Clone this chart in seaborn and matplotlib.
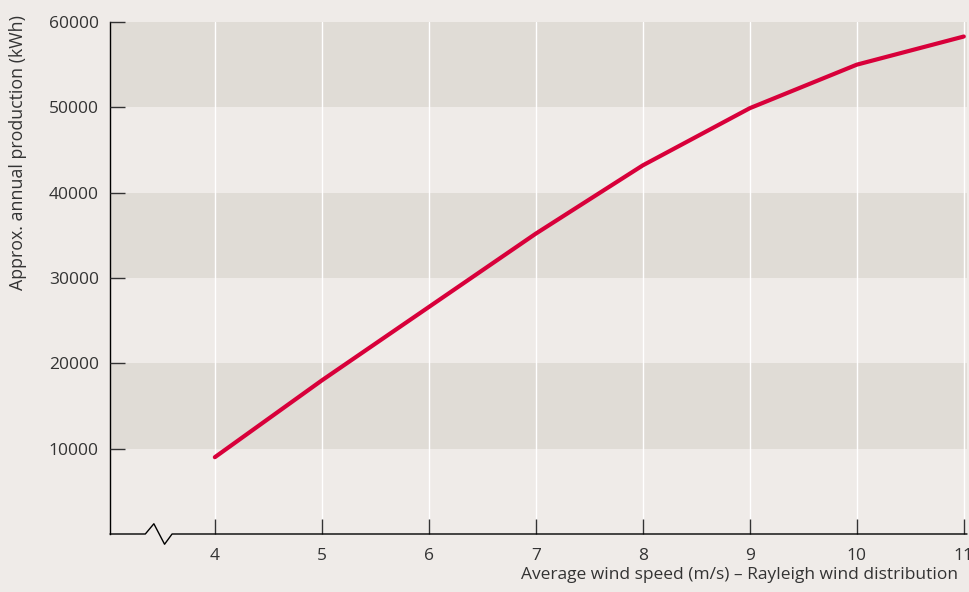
import matplotlib
matplotlib.use("Agg")
import matplotlib.pyplot as plt
import matplotlib.transforms as mtransforms
import pandas as pd
import seaborn as sns

# values
wind_speed = [4, 5, 6, 7, 8, 9, 10, 11]
production = [9000, 18000, 26600, 35200, 43200, 49900, 55000, 58300]
y_ticks = [10000, 20000, 30000, 40000, 50000, 60000]
band_ranges = [(10000, 20000), (30000, 40000), (50000, 60000)]

BG = "#efebe8"
BAND = "#e0dcd6"
RED = "#d8003a"
INK = "#333333"

sns.set_theme(style="white")
plt.rcParams["font.family"] = ["Open Sans", "DejaVu Sans"]

df = pd.DataFrame({"speed": wind_speed, "kwh": production})

fig = plt.figure(figsize=(9.7, 5.92), dpi=100, facecolor=BG)
ax = fig.add_axes([110 / 970, 58 / 592, 857 / 970, 512 / 592])
ax.set_facecolor(BG)
ax.set_axisbelow(False)

for lo, hi in band_ranges:
    ax.axhspan(lo, hi, color=BAND, zorder=0.2, lw=0)

for x in wind_speed:
    ax.axvline(x, color="white", lw=1.0, zorder=0.4)

sns.lineplot(data=df, x="speed", y="kwh", color=RED, lw=3.0, ax=ax, zorder=3)

ax.set_xlim(3.02, 11.03)
ax.set_ylim(0, 60000)
ax.set_xticks(wind_speed)
ax.set_yticks(y_ticks)
ax.tick_params(axis="both", direction="in", length=11, width=1, color=INK,
               labelsize=12.5, labelcolor=INK, pad=8, bottom=True, left=True)
ax.tick_params(axis="x", pad=10)

for side in ["top", "right", "bottom"]:
    ax.spines[side].set_visible(False)
ax.spines["left"].set_color("black")
ax.spines["left"].set_linewidth(1)

# bottom axis with a break mark
trans = mtransforms.blended_transform_factory(ax.transData, ax.transAxes)
bx = [3.02, 3.35, 3.43, 3.53, 3.6, 11.03]
by = [0, 0, 0.02, -0.02, 0, 0]
ax.plot(bx, by, color="black", lw=1, transform=trans, clip_on=False, zorder=4)

ax.set_xlabel("Average wind speed (m/s) – Rayleigh wind distribution",
              fontsize=12.5, color=INK, loc="right", labelpad=2)
ax.xaxis.label.set_x(0.99)
ax.set_ylabel("Approx. annual production (kWh)", fontsize=12.8, color=INK,
              labelpad=16, loc="top")
ax.yaxis.label.set_y(1.013)

fig.savefig("out.png", dpi=100, facecolor=BG)
